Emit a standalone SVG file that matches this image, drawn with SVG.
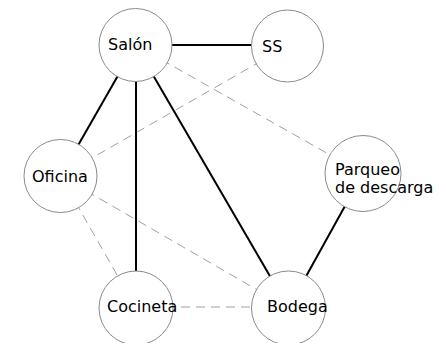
<svg xmlns="http://www.w3.org/2000/svg" width="438" height="343" viewBox="0 0 438 343">
<style>
.n{fill:#fff;stroke:#8a8a8a;stroke-width:1}
.t{font-family:"DejaVu Sans",Verdana,sans-serif;font-size:16px;fill:#000}
.s{stroke:#000;stroke-width:2;fill:none}
.d{stroke:#a0a0a0;stroke-width:1;stroke-dasharray:9,6;fill:none}
</style>
<rect width="438" height="343" fill="#fff"/>
<g id="connectors">
<line class="d" x1="135.5" y1="45" x2="363" y2="173.5"/>
<line class="d" x1="287.5" y1="46" x2="60.5" y2="176"/>
<line class="d" x1="60.5" y1="176" x2="288.5" y2="308"/>
<line class="d" x1="60.5" y1="176" x2="136" y2="308"/>
<line class="d" x1="136" y1="307" x2="288.5" y2="307"/>
<line class="s" x1="135.5" y1="45" x2="287.5" y2="45"/>
<line class="s" x1="135.5" y1="45" x2="60.5" y2="176"/>
<line class="s" x1="136" y1="45" x2="136" y2="308"/>
<line class="s" x1="135.5" y1="45" x2="288.5" y2="308"/>
<line class="s" x1="363" y1="173.5" x2="288.5" y2="308"/>
</g>
<g id="salon"><circle class="n" cx="135.5" cy="45" r="36.5"/><text class="t" x="108" y="50">Salón</text></g>
<g id="ss"><circle class="n" cx="287.5" cy="46" r="36"/><text class="t" x="262" y="52">SS</text></g>
<g id="oficina"><circle class="n" cx="60.5" cy="176" r="36.5"/><text class="t" x="32" y="182">Oficina</text></g>
<g id="parqueo"><circle class="n" cx="363" cy="173.5" r="38"/><text class="t" x="335" y="175">Parqueo</text><text class="t" x="335" y="193">de descarga</text></g>
<g id="cocineta"><circle class="n" cx="136" cy="308" r="37"/><text class="t" x="107" y="312">Cocineta</text></g>
<g id="bodega"><circle class="n" cx="288.5" cy="308" r="37"/><text class="t" x="267" y="312">Bodega</text></g>
</svg>
